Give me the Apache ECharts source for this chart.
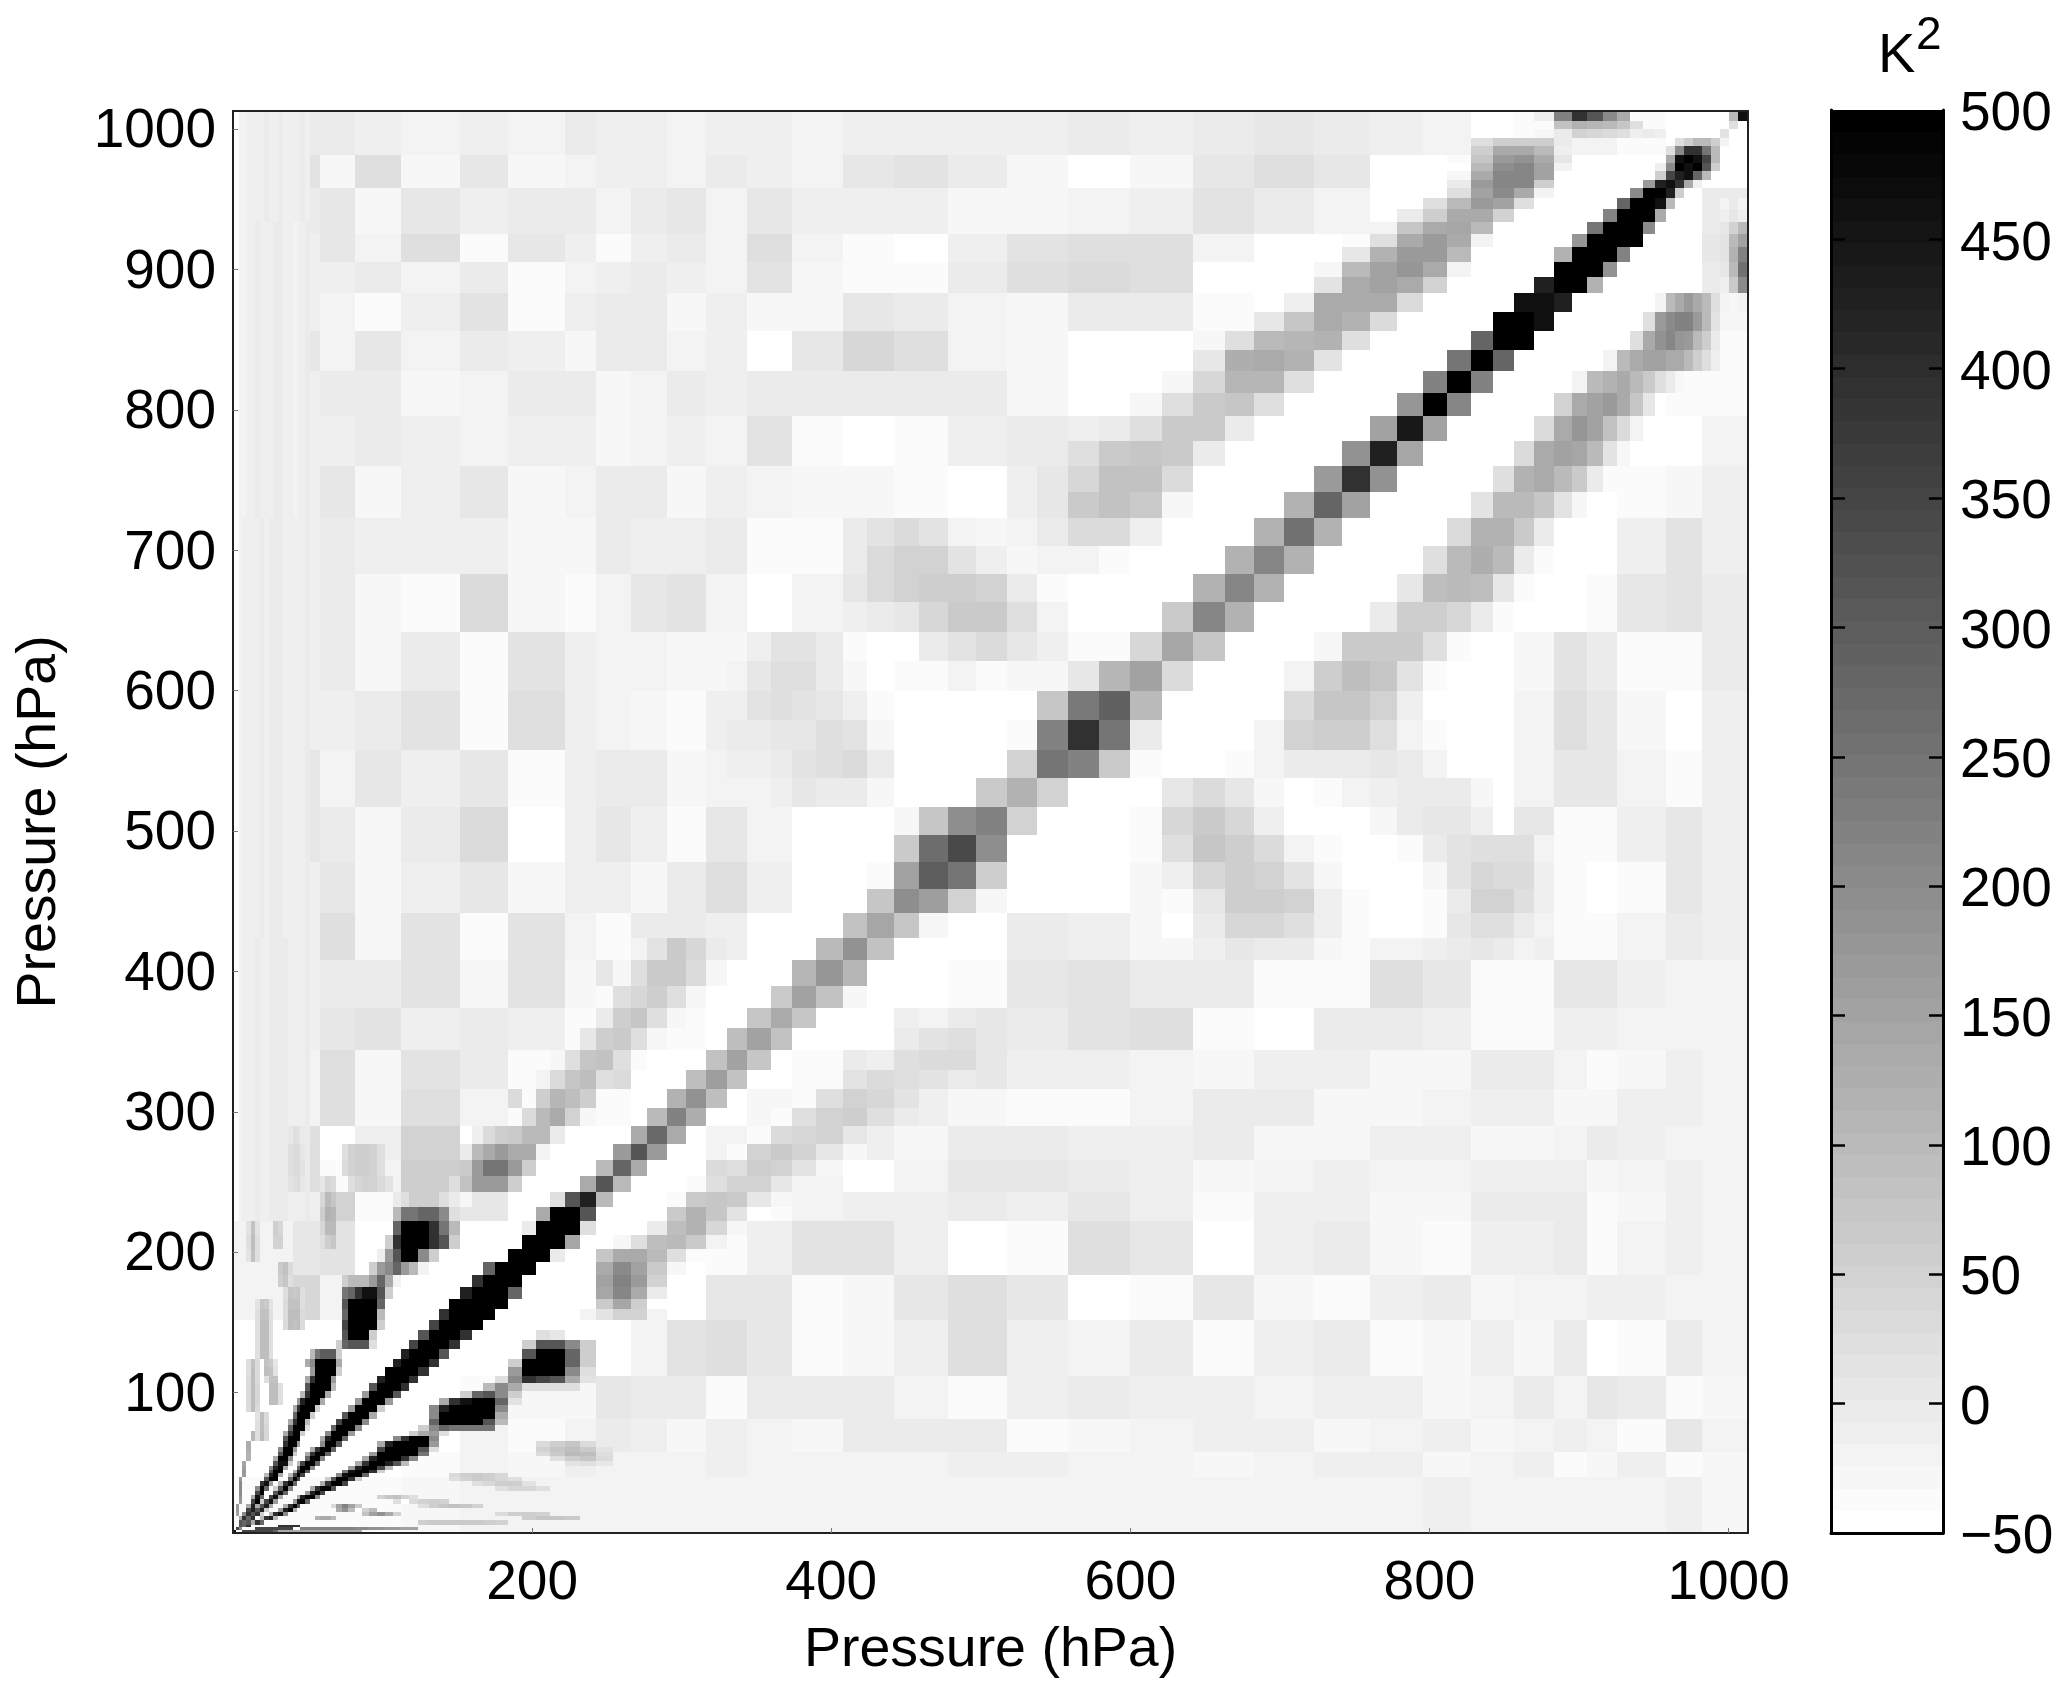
<!DOCTYPE html>
<html><head><meta charset="utf-8"><title>Covariance</title>
<style>html,body{margin:0;padding:0;background:#fff}#c{width:2067px;height:1695px}</style>
<script src="https://cdn.jsdelivr.net/npm/echarts@6/dist/echarts.min.js"></script></head>
<body><div id="c"></div><script>
const levels=[0,2,4,6,9,12,15,18,21,24,27,30,33.5,37,40,42.5,45,48,51.5,55,58,61.5,65.5,69,73,77,81.5,86,91,96,101.5,107,112,118,124,131,137.5,144.5,152,159.5,167,175.5,184,193,202.5,212,222,232,243,254,266,277,290,303,316,330,344,360,374,390,408,424,442,459,478,497,517.5,537.5,558,579,600,621,642,663,683,703,723,741.5,760,778,796,812,828,842.5,856.5,870,883,895,905.5,916,925.5,934,943,951,958,964,970,976,982,988,994,1000,1006,1013];
const xTicks=[200,400,600,800,1000];
const yTicks=[100,200,300,400,500,600,700,800,900,1000];
// Background blocks: indices into levels, values in K^2, top row first
const bgEdges=[0,14,20,26,32,38,42,46,48,50,52,54,56,58,60,62,64,66,68,70,72,74,76,78,80,82,84,86,88,90,94,98,103];
const background=[
[-18,0,0,-9,-18,-9,-18,-5,-9,-13,-18,-9,-13,-18,-9,-9,-13,-9,-5,-13,-5,8,0,-9,-18,-44,-35,-18,-18,-35,-44,-44],
[-18,17,-26,25,-26,8,-26,-18,-9,-9,-18,0,-9,-18,8,17,0,-26,-50,-26,8,25,8,-50,-44,-18,-18,-50,-50,-50,-50,-50],
[-13,0,8,-26,8,-9,0,0,-18,0,8,-18,8,-9,-9,-9,-26,-26,-18,-9,17,0,-18,-50,-50,-50,-50,-50,-50,-50,-50,0],
[-18,-13,8,-18,25,-35,8,-9,-35,-13,0,-18,25,-18,-39,-44,-9,17,25,25,-18,-50,-50,-50,-50,-50,-50,-50,-50,-50,-50,8],
[-18,-9,-9,0,-18,0,-35,-18,-9,0,-9,-18,17,-31,-35,-35,-5,25,34,25,-50,-50,-50,-50,-50,-50,-50,-50,-50,-50,-50,0],
[-26,-13,-18,-35,-9,17,-35,-13,0,0,-26,-13,-26,-31,8,0,-18,-31,0,0,-35,-50,-50,-50,-50,-50,-50,-50,-50,-50,-50,-31],
[-26,8,-18,8,-18,-5,-9,-26,0,-5,-18,-9,-44,8,43,25,-18,-31,-44,-50,-26,-50,-50,-50,-50,-50,-50,-50,-50,-50,-35,-35],
[-18,-13,0,0,-26,-18,0,0,-26,-18,0,-9,0,-5,-5,-5,0,-26,-44,-50,-50,-50,-50,-50,-50,-50,-50,-50,-50,-50,-35,-35],
[-18,-13,-9,0,-9,-18,-9,-13,-26,-18,-13,-22,17,-39,-48,-35,-9,-5,8,-50,-50,-50,-50,-50,-50,-50,-50,-50,-50,-50,-50,-18],
[-22,-13,8,-31,-9,8,-31,-18,0,0,-31,-9,-18,-26,-26,-39,-44,-13,-50,-50,-50,-50,-50,-50,-50,-50,-50,-50,-50,-39,-26,-9],
[-18,-13,0,-13,-9,-9,-31,-31,0,-9,-9,0,-39,-39,8,25,-26,-18,-50,-50,-50,-50,-50,-50,-50,-50,-35,-50,-50,-9,17,-9],
[-13,-9,0,-26,-39,34,-26,-35,-18,8,17,-18,-44,-18,34,51,43,-18,-50,-50,-50,-50,-50,-50,-50,-50,-50,-50,-35,8,17,0],
[-13,-9,0,-26,0,-35,17,-13,-18,-18,-26,-26,0,-26,-44,-35,-18,-9,-35,-50,-50,-50,-50,-50,-50,-50,-26,17,0,-35,-39,-5],
[-18,-9,-9,0,17,-39,25,-9,-18,-26,-35,-9,17,17,-35,-50,-50,-50,-50,-50,-50,-50,-50,-50,-50,-50,-18,25,8,-26,-50,-9],
[-13,8,-18,8,-13,8,-35,-9,0,0,-26,-18,-13,8,-9,-50,-50,-50,-50,-50,-50,-50,-50,-50,-50,-50,-18,8,8,-18,-35,-9],
[-13,8,0,-26,0,34,-50,-9,8,-9,-35,8,-18,-50,-50,-50,-50,-50,-50,-35,-50,-50,-50,-50,-50,-50,8,-35,-39,-9,8,-13],
[0,-9,8,-26,-9,8,-26,-9,-9,-26,0,25,-9,-50,-50,-50,-50,-50,-50,-26,-50,-50,-50,-50,-50,34,8,-39,-50,-35,8,-9],
[-9,-9,25,-26,17,-35,17,-18,-35,0,0,-9,-50,-50,-50,-50,-50,0,-9,-26,-9,-9,-35,-18,-18,8,-9,-35,-39,-18,0,-9],
[-9,-13,0,0,17,-26,17,-26,8,43,25,-50,-50,-50,-50,-50,-35,8,17,0,0,-35,-35,25,8,-35,-35,8,8,-9,-18,-18],
[-13,-13,8,17,-9,0,-9,-39,60,34,-39,-50,-50,-50,-50,-9,8,0,17,25,-35,-44,0,0,-13,-35,-35,-9,-9,-18,-18,-18],
[-13,-18,25,-26,17,0,-35,60,34,-50,-50,-50,-50,-39,0,25,8,-13,-13,-18,-26,-13,-9,-26,-31,-5,0,-18,-35,-26,-9,-18],
[-18,-18,25,-26,25,-18,34,103,-35,-50,-50,-50,-26,34,34,-9,-26,-35,-39,-18,0,0,-26,-26,-18,-9,-13,-26,-26,-13,-9,-22],
[-18,25,-44,-9,51,-44,-50,-50,-50,-50,-50,-18,51,34,-9,-26,0,0,-9,-9,0,-26,-31,-9,-9,-26,-31,-18,0,-9,-18,-22],
[-26,25,-35,-18,60,-50,-50,-50,-50,-50,-50,34,34,-18,-44,-18,8,8,0,-9,-26,-18,-13,-22,-22,-13,-13,-9,-31,-22,-9,-18],
[-26,-9,51,-35,-39,8,-50,-50,-50,-50,-50,25,-35,-22,-13,-9,0,-9,8,-9,-39,-9,-9,-31,-31,-5,0,0,-35,-26,-9,-18],
[-18,8,17,-50,-50,-50,-50,-50,-50,-50,-50,-35,-9,17,17,-9,-50,-35,25,8,-44,-9,-5,-31,-35,-13,-9,-5,-39,-18,-9,-22],
[-18,43,-18,-50,-50,-50,-50,-44,-50,-50,-44,8,8,-35,-31,8,25,8,-50,-39,8,-26,-35,-13,0,-26,-18,-22,-9,-13,-22,-22],
[-50,-50,-50,-50,-50,-50,-50,-50,-50,-18,17,25,8,-39,-26,-9,25,-9,-18,0,-39,-13,0,-35,-26,-9,-26,0,-44,-35,0,-22],
[-50,-50,-50,-50,-50,-35,-26,-26,8,0,0,-35,0,0,0,-18,-35,-9,0,-9,-9,-22,-13,-13,-26,-18,0,-22,8,0,-39,-26],
[-50,-50,-50,-50,-50,-18,-39,-18,0,-9,-26,-13,-18,-26,0,0,0,-35,-26,-18,-13,-13,-26,-18,-9,-26,-18,-13,-18,-35,8,-22],
[-50,-50,-50,-50,-39,-18,-26,-13,-18,-18,-18,-9,-18,-18,-18,-18,-13,-13,-18,-18,-26,-22,-9,-13,-31,-18,-13,-35,-26,-13,-35,-26],
[-35,-35,-35,-35,-26,-22,-22,-18,-22,-22,-22,-22,-22,-22,-22,-22,-22,-22,-22,-22,-22,-18,-22,-18,-13,-18,-18,-22,-18,-18,-13,-26]
];
// Vertical streaks beside the left axis: [first row, last row, first column, values ...]
const leftStrip=[
[46,60,0,-50,-44,-18,-13,-9,-9,-5,-9,-13,-5,0,-5,-5,-9,-13,-13,-9,-5],
[61,75,0,-50,-44,-22,-13,-9,-13,-9,-5,-9,-5,-5,-5,-9,-13,-13,-9,-9,-5],
[76,90,0,-50,-44,-18,-18,-9,-13,-5,-13,-9,-13,-5,0,-9,-13,-18,-13,-9,-5],
[91,102,0,-50,-44,-18,-18,-13,-9,-13,-9,-5,-13,-9,-5,-9,-13,-13,-9,-5,-9]
];
// Fine cells on the levels grid: [row, first column, values in K^2 ...]
const streaks=[
[5,1,150],[6,1,170],[7,1,170],[8,2,170],[9,2,190],[10,2,200],[11,2,200],[12,2,200],[13,2,170],[14,3,170],[15,3,170],[16,3,160],[17,3,140],[18,4,120],[19,4,120],[20,4,130],[21,4,130],[22,5,100],[23,5,100],
[22,6,20,100,40],[23,6,25,100,40],[24,6,25,95,40],[25,6,20,95,35],[26,6,15,90,30],
[27,4,30,90,35],[28,4,30,95,40],[29,4,35,95,40],[30,4,30,95,40],[31,4,30,95,35],[32,4,25,90,35],[33,4,20,85,30],
[28,9,90,90,20],[29,9,90,90,20],[30,9,90,90,20],[31,8,20,85,85],[32,8,90,80,15],[33,8,85,70,10],
[34,6,25,90,90,25],[35,6,25,95,95,25],[36,6,25,95,90,25],[37,6,25,95,90,20],[38,6,20,85,80,20],[39,6,15,75,70,15],
[37,12,30,90,80,90,30],[38,12,30,95,90,95,30],[39,12,30,85,80,85,25],[40,12,20,75,70,75,20],[41,11,60,75,25],[42,11,70,80,35],
[43,4,15,85,20],[44,4,20,90,20],[45,4,15,80,15],[44,10,50,45],[45,10,55,40],
[44,20,25,60,77],[45,20,43,97,103],[46,20,60,120,110],[47,20,43,97,77],[48,20,8,43,34],
[48,13,17,25,34,8],[49,13,25,34,34,17],[50,13,25,34,30,8],[51,13,8,25,17,0],
[49,24,34,51,60,60,51,25],[50,24,25,51,60,60,51,25],[48,25,25,43,51,51,34,17],
[0,3,353,353,353,353,353,353,353,280],[0,11,133,133,133,133,133,133,133,133,133,133,133,133,133,133,133,133],
[1,6,353,353,353,353,353,353,353,353],[1,16,224,224,224,224,224,224,224,224,224,224,207,207,189,189,170,170,155,155],
[2,11,390,390,390,390,390],[3,34,60,69,69,69,69,69,60,51],
[4,19,120,133,133,100],[4,43,60,77,77,69],
[5,27,86,155,189,138,51],[5,41,34,60,60,51],
[6,23,138,189,94,-50,51,94],[7,22,34,155,224,155,69],[7,34,25,60,77,86,77,51],[8,31,25,-50,34,51,60,51],
[9,29,51,77,86,51,25],
[11,41,25,43,43,25],[12,39,25,43,60,60,17],[13,37,25,51,69,60,43,25],[14,37,34,60,69,60,43],
[17,46,17,25,8],[18,45,25,60,77,34],[19,44,34,69,103,94,25],[20,44,51,77,94,69,17],[21,44,34,60,77,34],
[38,47,-18,17,51,51,-18],[39,48,69,147,60],[40,48,147,213,138,0],[41,48,155,224,170,51],[42,48,138,207,155,69],[43,48,77,138,138,120]
];
const sideBands=[
[60,50,-18,17,69,43,0],[59,49,-26,25,69,69,34,-26],[58,48,-35,25,43,60,25,-26],[57,48,0,60,77,25,-26],[56,47,8,60,69,25,-26],[55,45,-26,25,77,86,25,-35],[54,44,-18,34,77,94,25],[53,43,-35,60,112,94,60,-35],[52,42,-35,34,97,133,51,-26],[51,39,-13,34,60,69,97,97,0],[50,38,0,97,133,170,133,133,-18],[49,38,69,170,244,244,170,60],[48,37,23,86,170,170,170,60],[47,31,0,23,60,60,60,23,0,-26],
[57,63,-18,0],[56,62,0,17,25],[55,61,-9,25,34,34],[54,59,-35,17,34,25,17,0],[53,58,-35,25,51,43,17,-9],[52,57,-39,25,51,60,25,0],[51,56,-35,34,43,51,8,-9],[50,55,-39,51,69,51,8,-26],[49,55,25,60,51,17,-26],[48,53,-39,25,51,51,8,-18],[47,52,-39,69,77,69,8,-26],[46,52,69,120,77,17,-44],[45,51,0,94,120,43,-26],[44,49,-26,25,94,103,69,-18],[43,50,138,103,25,-35],[42,50,155,69,-26],
[75,60,0,17,34,17,-18],[74,60,0,34,51,51,17,-9,-26],[73,60,8,34,51,60,60,51,0,-35],[72,60,-9,0,8,43,69,69,25],[71,56,-9,17,17,0,-35,-44,-44,0,17,34,8],[70,55,-18,8,25,25,0,-26],[69,55,-13,17,25,17,8,-9],[68,55,0,0,8,8,25,17,-26],[67,55,-13,-9,0,17,25,34,0],[66,55,-18,-18,-9,8,0,0,-26],
[99,82,23,60,60,60,0],[98,82,60,133,133,97,-13],[97,81,-35,77,170,189,133,8],[96,82,97,198,213,155,-18],[95,81,-26,133,213,213,155],[94,81,0,170,213,213,60],[93,81,23,155,207,133,-18],[92,80,23,97,170,155,23],[91,79,0,60,133,138,51],[90,78,-18,77,133,147,97],[89,77,-35,23,133,170,133,-18],[88,77,8,120,170,170,103],[87,76,-26,97,155,178,138,-18],[86,76,17,133,155,138,51],[85,75,-13,133,133,133,34],[84,73,-35,8,73,133,120,34],[83,73,23,103,110,120,23],[82,72,8,129,138,115,17],[81,71,-31,43,112,112,25],[80,70,-26,23,69,77,23],[79,68,-9,-5,25,69,69,0],[78,68,25,69,77,69,0],[77,67,8,43,86,86,34],[76,67,8,69,86,69,-26],[75,67,0,34,34,-13],[74,67,-18,-18,-39],
[85,93,-18,97,133,170,133,97,23,-18],[84,92,23,170,207,224,224,170,97,17],[83,91,23,133,189,213,178,170,97,60,0],[82,89,-18,97,133,155,155,133,133,97,60,23,-13],[81,87,-18,97,120,133,97,69,23,0,-26],[80,86,51,133,155,170,133,77,8],[79,85,34,138,178,155,86,34,-18],[78,84,34,138,155,147,97,17,-26],[77,83,23,120,133,97,69,0,-35],[76,82,17,103,103,77,17,-26],[75,81,34,120,120,69,0],[74,80,25,103,129,103,0],[73,79,8,94,103,94,8,-35],[72,78,0,60,60,43,0,-39],[71,76,-26,69,69,69,25,-35],[70,75,-18,60,94,77,17,-35],[69,74,-44,34,77,77,51,-9],[68,74,-18,51,60,60,25,-18,-39],[67,73,-35,-18,0,0,0,8,0,-18],[66,71,8,34,8,-26,-44,-35,-18,-9,0,0,0,-26],[65,71,43,69,43,-9,-44,-48,-44,-26,0,8,8,-9],[64,71,25,77,60,34,-18,-39,-50,-50,-35,0,17,25,25,25,-18],[63,71,-9,43,60,51,17,-26,-50,-50,-50,-26,17,43,34,34,-9],[62,71,-39,8,60,60,51,-9,-35,-50,-50,-35,0,51,51,25,-9],[61,71,-44,0,43,43,25,-9,-35,-44,-50,-39,8,25,25,0,-18],[60,71,-26,-9,8,0,0,-26,-35,-18,-18,-9,-5,8,0,-18],
[102,85,-9,224,390,317,207,133],[101,86,86,120,112,103,77,23],[100,85,-26,0,51,43,34,25,-9,0,-9],
[92,100,-18,0,-18],[91,100,-9,8,-9],[90,100,8,51,103],[89,100,17,103,155],[88,100,17,120,224],[87,100,8,103,258],[86,100,-9,69,207],[85,102,-18]
];
const rays=[
[46,31,97,244,244,280,280,207,23],[45,31,280,500,500,500,390,244,97],[44,30,60,390,500,500,500,390,317,60],[43,29,-13,170,317,500,500,207,60],[42,28,60,170,207,280,170,97,-18],[41,24,60,97,97,97,170,280,133,-18],[40,24,244,280,390,463,463,317,60],[39,24,317,500,500,500,500,280],[38,24,280,500,500,500,500,97],[37,24,353,500,500,500,500,60],[36,24,317,500,500,500,60],[35,23,60,280,317,317,317,23],
[34,18,97,244,300,300,300,60],[33,17,133,207,500,500,500,500,133],[32,18,170,500,500,500,500,60],[31,17,133,390,500,500,500,170],[30,17,317,500,500,500,500,97],[29,16,97,390,500,500,500,133],[28,15,170,427,500,500,500,133],[27,14,133,390,500,500,500,60],[26,14,280,500,500,500,60],[25,13,133,390,500,500,97],[24,13,280,500,500,500,23],[23,12,133,390,500,500,60],[22,12,317,500,500,500],[21,12,390,500,500,170],[20,11,207,500,500,170],[19,11,317,500,500,60],[18,10,133,500,500,207],[17,10,317,463,463,60],[16,9,207,427,500,133],[15,9,317,500,500],[14,8,97,427,500,133],[13,8,317,500,500],[12,7,390,463,170],[11,6,207,500,280],[10,6,353,500],[9,5,133,463,280],[8,5,353,500],[7,4,133,427,133],[6,4,353,427],[5,3,207,390],[4,2,133,390],[3,2,317],
[36,44,23,8],[35,43,60,317,317,207,60],[34,43,317,500,500,280,60],[33,42,60,500,500,500,280,60],[32,42,170,500,500,500,207,23],[31,41,23,207,390,353,317,133,17],[30,40,97,207,133,23,23,23,23],[29,38,60,280,317,207,60],[28,36,133,390,463,500,500,280,17],[27,35,207,427,500,500,500,500,207],[26,35,207,500,500,500,500,500,133],[25,35,280,500,500,500,500,317,97],[24,34,60,207,280,244,244,244,244],[23,33,60,133,170,23],[22,31,207,390,500,500,207],[21,29,133,427,500,500,500,500,170],[20,29,353,500,500,500,500,317,23],[19,28,170,500,500,500,500,500,244],[18,27,133,427,500,500,500,390,207],[17,26,133,390,500,500,427,317,97],[16,25,170,427,500,500,353,97],[15,24,244,463,500,500,390,60],[14,23,207,463,500,500,280],[13,21,60,317,500,500,390,60],[12,20,133,390,500,500,353],[11,18,133,390,500,500,317],[10,17,170,427,500,353],[9,15,133,427,500,500,207],[8,14,170,463,500,280],[7,12,133,390,500,317],[6,11,170,427,500,133],[5,9,97,390,463,207],[4,7,97,390,427,97],[3,5,133,390,280],[2,3,170,390],[1,1,207,390]
];
const mainDiagonal=[
[0,0,463],[1,1,353,207],[2,2,317,280],[3,3,280,317],[4,4,280,390],[5,5,317,390,60],[6,6,317,427,60],[7,7,317,427,133],[8,7,60,353,463,170],[9,9,353,463,133],[10,10,317,463,280],[11,10,60,317,500,207],[12,11,97,390,500,280],[13,13,280,500,353],[14,13,97,353,500,353],[15,14,133,427,500,317],[16,15,280,500,500,207],[17,15,97,353,500,500,280],[18,17,280,500,500,207],[19,17,133,390,500,500,280],[20,18,133,390,500,500,280],[21,20,207,500,500,317],[22,20,133,427,500,500,280],[23,21,207,500,500,500,170],[24,22,280,500,500,500,207],[25,23,353,500,500,500,207],[26,24,317,500,500,500,133],[27,25,170,500,500,500,60],[28,26,170,500,500,500,170],[29,27,170,500,500,500,317],[30,28,317,500,500,500,390],[31,29,427,500,500,500,390],[32,30,500,500,500,500,390],[33,31,427,500,500,500,390],[34,32,427,500,500,500,317],[35,33,353,500,500,500,390],[36,34,317,500,500,500,390],[37,35,353,500,500,500,500],[38,36,390,500,500,500,500],[39,37,500,500,500,500,500],[40,38,427,500,500,500,280],[41,39,390,500,500,500],[42,40,280,500,500,500],[43,42,500,500,500,0],[44,43,500,500,500,147],[45,43,0,500,500,500,23],[46,44,138,500,500,317],[47,45,23,317,427,97],[48,47,133,317,97],[49,48,97,280,133],[50,49,170,317,170],[51,50,133,271,138],[52,51,103,224,129],[53,52,120,189,94],[54,53,94,163,86],[55,54,86,155,77],[56,55,94,155,86],[57,56,77,138,77],[58,57,69,155,86,-31],[59,58,112,180,112,-44],[60,59,103,189,86],[61,60,86,147,77,-31],[62,61,77,198,163,51,-26],[63,61,-35,155,297,248,60],[64,62,69,263,340,197,-44],[65,62,-26,77,197,224,51],[66,64,-44,64,120,53],[67,66,53,243,224,69,-35],[68,66,-39,224,390,247,0],[69,67,77,241,286,103],[70,65,-39,-31,-31,8,112,155,34],[71,70,43,146,77],[72,71,69,213,120],[73,72,120,213,120],[74,73,120,213,120],[75,74,120,258,120],[76,75,120,280,155],[77,76,170,390,189],[78,77,189,426,146],[79,78,155,445,155],[80,79,178,500,216],[81,80,224,500,224],[82,81,247,500,280],[83,82,280,500,500],[84,83,500,500,463],[85,84,463,463,426],[86,85,426,500,500,120],[87,86,500,500,500,190],[88,86,120,500,500,500,223],[89,87,178,500,500,500,500],[90,88,248,500,500,500,207],[91,89,224,500,500,500,133],[92,90,280,500,500,463,97],[93,91,207,500,500,427,60],[94,92,170,427,463,390,133,-13],[95,93,60,353,427,463,280,97],[96,93,-13,207,500,463,500,317,60],[97,94,133,463,500,463,353,97],[98,94,23,207,390,390,244,97],[99,95,23,60,97,97,60,-18],[100,100,17],[101,101,23],[102,101,97,463]
];
const colorTicks=[0,50,100,150,200,250,300,350,400,450];
const colorMin=-50,colorMax=500,colorSteps=64;

function shade(v){
  let k=Math.floor((v-colorMin)/(colorMax-colorMin)*colorSteps);
  k=Math.max(0,Math.min(colorSteps-1,k));
  const g=Math.round(255*(1-k/(colorSteps-1)));
  return 'rgb('+g+','+g+','+g+')';
}
const cells=[];
background.forEach((vals,i)=>{
  const r=bgEdges.length-2-i;
  vals.forEach((v,c)=>cells.push([levels[bgEdges[c]],levels[bgEdges[c+1]],levels[bgEdges[r]],levels[bgEdges[r+1]],v]));
});
leftStrip.forEach(s=>{
  s.slice(3).forEach((v,n)=>{
    const c=s[2]+n;
    cells.push([levels[c],levels[c+1],levels[s[0]],levels[s[1]+1],v]);
  });
});
[streaks,sideBands,rays,mainDiagonal].forEach(group=>{
  group.forEach(run=>{
    const r=run[0],c0=run[1];
    run.slice(2).forEach((v,n)=>{
      const c=c0+n;
      if(c<levels.length-1) cells.push([levels[c],levels[c+1],levels[r],levels[r+1],v]);
    });
  });
});
const colorBands=[];
for(let k=0;k<colorSteps;k++){
  const a=colorMin+(colorMax-colorMin)*k/colorSteps,b=colorMin+(colorMax-colorMin)*(k+1)/colorSteps;
  colorBands.push([0,1,a,b,(a+b)/2]);
}
function renderCell(params,api){
  const p0=api.coord([api.value(0),api.value(2)]),p1=api.coord([api.value(1),api.value(3)]);
  const x=Math.round(p0[0]),X=Math.round(p1[0]),y=Math.round(p1[1]),Y=Math.round(p0[1]);
  return {type:'rect',shape:{x:x,y:y,width:X-x,height:Y-y},style:{fill:shade(api.value(4))},silent:true};
}
const FONT='"Liberation Sans",Arial,sans-serif';
const labelStyle={fontFamily:FONT,fontSize:55,color:'#000'};
const frame={show:true,onZero:false,lineStyle:{color:'#222',width:2}};
const chart=echarts.init(document.getElementById('c'),null,{renderer:'canvas',width:2067,height:1695});
chart.setOption({
  animation:false,backgroundColor:'#fff',
  grid:[{left:233,top:111,width:1515,height:1422},{left:1831,top:110,width:112,height:1423}],
  xAxis:[
    {gridIndex:0,type:'value',min:0,max:1013,position:'bottom',z:10,splitLine:{show:false},axisLine:frame,
     axisTick:{show:true,inside:true,length:5,lineStyle:{color:'#777',width:1},customValues:xTicks},
     axisLabel:{...labelStyle,margin:23,customValues:xTicks,hideOverlap:false,formatter:v=>String(v)},
     name:'Pressure (hPa)',nameLocation:'middle',nameGap:90,nameTextStyle:{fontFamily:FONT,fontSize:55.5,color:'#000'}},
    {gridIndex:0,type:'value',min:0,max:1013,position:'top',z:10,splitLine:{show:false},axisLine:frame,axisTick:{show:false},axisLabel:{show:false}},
    {gridIndex:1,type:'value',min:0,max:1,position:'bottom',z:10,splitLine:{show:false},axisLine:{show:true,onZero:false,lineStyle:{color:'#000',width:3}},axisTick:{show:false},axisLabel:{show:false}}
  ],
  yAxis:[
    {gridIndex:0,type:'value',min:0,max:1013,position:'left',z:10,splitLine:{show:false},axisLine:frame,
     axisTick:{show:true,inside:true,length:5,lineStyle:{color:'#777',width:1},customValues:yTicks},
     axisLabel:{...labelStyle,margin:17,customValues:yTicks,hideOverlap:false,verticalAlign:'top',lineHeight:6,formatter:v=>String(v)},
     name:'Pressure (hPa)',nameLocation:'middle',nameRotate:90,nameGap:165,nameTextStyle:{fontFamily:FONT,fontSize:55.5,color:'#000'}},
    {gridIndex:0,type:'value',min:0,max:1013,position:'right',z:10,splitLine:{show:false},axisLine:frame,axisTick:{show:false},axisLabel:{show:false}},
    {gridIndex:1,type:'value',min:colorMin,max:colorMax,interval:50,position:'right',z:10,splitLine:{show:false},
     axisLine:{show:true,onZero:false,lineStyle:{color:'#000',width:3}},
     axisTick:{show:true,inside:true,length:14,lineStyle:{color:'#000',width:2.5},customValues:colorTicks},
     axisLabel:{...labelStyle,margin:17,align:'left',verticalAlign:'top',lineHeight:10,hideOverlap:false,showMinLabel:true,showMaxLabel:true,formatter:v=>String(v).replace('-','\u2212')}},
    {gridIndex:1,type:'value',min:colorMin,max:colorMax,interval:50,position:'left',z:10,splitLine:{show:false},
     axisLine:{show:true,onZero:false,lineStyle:{color:'#000',width:3}},
     axisTick:{show:true,inside:true,length:14,lineStyle:{color:'#000',width:2.5},customValues:colorTicks},
     axisLabel:{show:false}}
  ],
  series:[
    {type:'custom',xAxisIndex:0,yAxisIndex:0,coordinateSystem:'cartesian2d',data:cells,renderItem:renderCell,clip:true,progressive:0,z:2,silent:true,encode:{x:[0,1],y:[2,3]}},
    {type:'custom',xAxisIndex:2,yAxisIndex:2,coordinateSystem:'cartesian2d',data:colorBands,renderItem:renderCell,clip:true,progressive:0,z:2,silent:true,encode:{x:[0,1],y:[2,3]}}
  ],
  graphic:[
    {type:'text',left:1878,top:29,style:{text:'K',fontFamily:FONT,fontSize:56,fill:'#000'}},
    {type:'text',left:1916,top:13,style:{text:'2',fontFamily:FONT,fontSize:46,fill:'#000'}}
  ]
});
</script></body></html>
